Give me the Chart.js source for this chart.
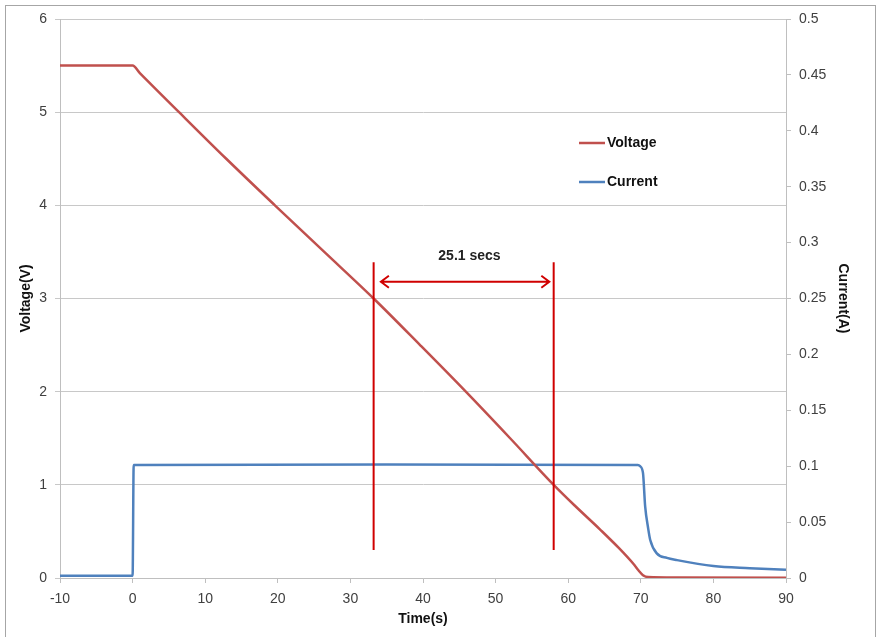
<!DOCTYPE html>
<html lang="en">
<head>
    <meta charset="utf-8" />
    <title>Voltage and Current</title>
    <script src="https://cdn.jsdelivr.net/npm/chart.js"></script>
    <style>
        body { margin: 0; background: #fff; }
    </style>
</head>
<body>
    <canvas id="grafico" width="878" height="637"></canvas>

    <script>
        // --- data ---
        const tiempoVoltaje = [-10, 0, 1, 6.4, 12.9, 19.6, 26.4, 33.2, 39.6, 45.9, 52, 58, 61, 64.4, 67, 69, 69.7, 70.3, 71, 75, 90];
        const voltaje = [5.5, 5.5, 5.42, 5.0, 4.5, 4.0, 3.5, 3.0, 2.5, 2.0, 1.5, 1.0, 0.77, 0.52, 0.32, 0.15, 0.08, 0.03, 0.01, 0.005, 0.002];

        const tiempoCorriente = [-10, 0, 0.15, 35, 69.6, 69.9, 70.3, 70.6, 71.0, 71.3, 72.2, 73.6, 75, 80, 85, 90];
        const corriente = [0.002, 0.002, 0.101, 0.1015, 0.101, 0.1, 0.094, 0.064, 0.045, 0.034, 0.022, 0.018, 0.016, 0.0107, 0.0088, 0.0074];

        // marker lines and arrow (in axis units)
        const marcasX = [33.2, 58.0];
        const marcaY = [0.3, 3.39];
        const flechaX = [34.2, 57.4];
        const flechaY = 3.18;
        const textoFlecha = '25.1 secs';
        const textoPos = [46.4, 3.45];

        function puntos(xs, ys) {
            return xs.map((x, i) => ({ x: x, y: ys[i] }));
        }

        const rojo = '#c0504d';
        const azul = '#4f81bd';
        const rojoMarca = '#d00000';

        const anotaciones = {
            id: 'anotaciones',
            afterDatasetsDraw(chart) {
                const ctx = chart.ctx;
                const x = chart.scales.x;
                const y = chart.scales.y;
                ctx.save();
                ctx.strokeStyle = rojoMarca;
                ctx.lineWidth = 2;
                marcasX.forEach(m => {
                    ctx.beginPath();
                    ctx.moveTo(x.getPixelForValue(m), y.getPixelForValue(marcaY[0]));
                    ctx.lineTo(x.getPixelForValue(m), y.getPixelForValue(marcaY[1]));
                    ctx.stroke();
                });
                // arrow
                const x1 = x.getPixelForValue(flechaX[0]);
                const x2 = x.getPixelForValue(flechaX[1]);
                const ya = y.getPixelForValue(flechaY);
                ctx.beginPath();
                ctx.moveTo(x1, ya);
                ctx.lineTo(x2, ya);
                ctx.moveTo(x1 + 8, ya - 6);
                ctx.lineTo(x1, ya);
                ctx.lineTo(x1 + 8, ya + 6);
                ctx.moveTo(x2 - 8, ya - 6);
                ctx.lineTo(x2, ya);
                ctx.lineTo(x2 - 8, ya + 6);
                ctx.stroke();

                ctx.fillStyle = '#222';
                ctx.font = 'bold 14px "Liberation Sans", Arial, sans-serif';
                ctx.textAlign = 'center';
                ctx.textBaseline = 'middle';
                ctx.fillText(textoFlecha, x.getPixelForValue(textoPos[0]), y.getPixelForValue(textoPos[1]));

                // legend
                ctx.textAlign = 'left';
                chart.data.datasets.forEach((ds, i) => {
                    const ly = 143 + i * 39;
                    ctx.strokeStyle = ds.borderColor;
                    ctx.lineWidth = 2.5;
                    ctx.beginPath();
                    ctx.moveTo(579, ly);
                    ctx.lineTo(605, ly);
                    ctx.stroke();
                    ctx.fillStyle = '#111';
                    ctx.fillText(ds.label, 607, ly);
                });

                // frame
                ctx.strokeStyle = '#a6a6a6';
                ctx.lineWidth = 1;
                ctx.strokeRect(5.5, 5.5, 870, 700);
                ctx.restore();
            }
        };

        const fuenteTicks = { family: '"Liberation Sans", Arial, sans-serif', size: 14 };
        const fuenteTitulo = { family: '"Liberation Sans", Arial, sans-serif', size: 14, weight: 'bold' };

        new Chart(document.getElementById('grafico'), {
            type: 'line',
            data: {
                datasets: [
                    {
                        label: 'Voltage',
                        data: puntos(tiempoVoltaje, voltaje),
                        borderColor: rojo,
                        borderWidth: 2.5,
                        pointRadius: 0,
                        fill: false,
                        cubicInterpolationMode: 'monotone',
                        yAxisID: 'y'
                    },
                    {
                        label: 'Current',
                        data: puntos(tiempoCorriente, corriente),
                        borderColor: azul,
                        borderWidth: 2.5,
                        pointRadius: 0,
                        fill: false,
                        cubicInterpolationMode: 'monotone',
                        yAxisID: 'y2'
                    }
                ]
            },
            options: {
                responsive: false,
                animation: false,
                devicePixelRatio: 1,
                layout: { padding: { top: 19, left: 0, right: 0, bottom: 0 } },
                plugins: {
                    legend: { display: false },
                    tooltip: { enabled: false }
                },
                scales: {
                    x: {
                        type: 'linear',
                        min: -10,
                        max: 90,
                        ticks: { stepSize: 10, color: '#404040', font: fuenteTicks, padding: 8 },
                        grid: { drawOnChartArea: false, tickLength: 5, color: '#bfbfbf' },
                        border: { color: '#bfbfbf' },
                        title: { display: true, text: 'Time(s)', color: '#111', font: fuenteTitulo, padding: { top: 0, bottom: 9 } },
                        afterFit(s) { s.height = 59; }
                    },
                    y: {
                        position: 'left',
                        min: 0,
                        max: 6,
                        ticks: { stepSize: 1, color: '#404040', font: fuenteTicks, padding: 8 },
                        grid: { color: '#c8c8c8', tickLength: 5 },
                        border: { color: '#bfbfbf' },
                        title: { display: true, text: 'Voltage(V)', color: '#111', font: fuenteTitulo, padding: { top: 18, bottom: 0 } },
                        afterFit(s) { s.width = 60; }
                    },
                    y2: {
                        position: 'right',
                        min: 0,
                        max: 0.5,
                        ticks: { stepSize: 0.05, color: '#404040', font: fuenteTicks, padding: 8,
                            callback: v => String(Math.round(v * 100) / 100) },
                        grid: { drawOnChartArea: false, tickLength: 5, color: '#bfbfbf' },
                        border: { color: '#bfbfbf' },
                        title: { display: true, text: 'Current(A)', color: '#111', font: fuenteTitulo, padding: { top: 27, bottom: 0 } },
                        afterFit(s) { s.width = 92; }
                    }
                }
            },
            plugins: [anotaciones]
        });
    </script>
</body>
</html>
